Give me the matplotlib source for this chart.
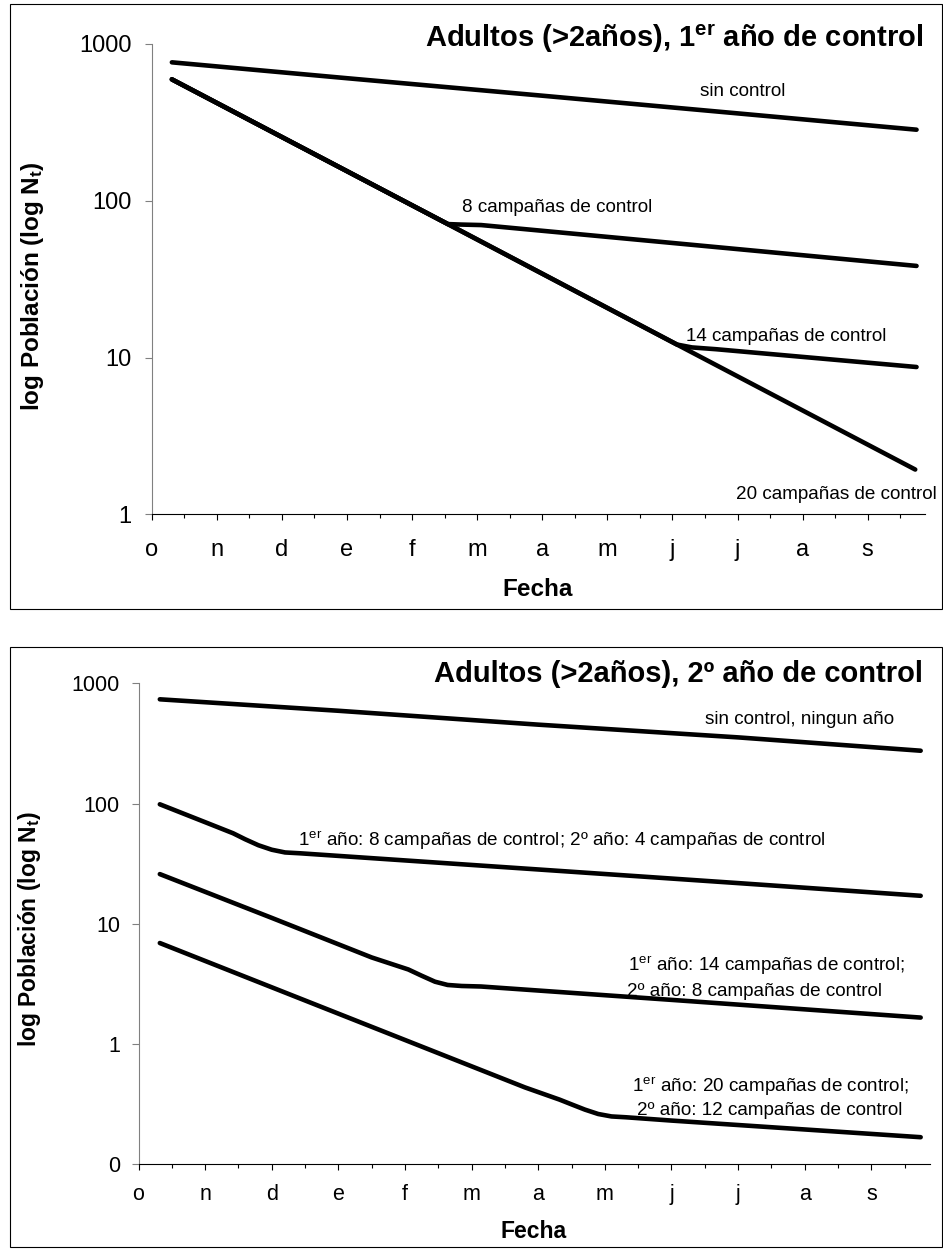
import matplotlib.pyplot as plt
from matplotlib.ticker import FixedLocator, NullLocator
from matplotlib.patches import Rectangle

plt.rcParams['font.family'] = ['Liberation Sans', 'DejaVu Sans']
plt.rcParams['mathtext.fontset'] = 'custom'
plt.rcParams['mathtext.rm'] = 'Liberation Sans'
plt.rcParams['mathtext.it'] = 'Liberation Sans:italic'
plt.rcParams['mathtext.bf'] = 'Liberation Sans:bold'

# x in months counted from 1 October (o n d e f m a m j j a s)
meses = ['o', 'n', 'd', 'e', 'f', 'm', 'a', 'm', 'j', 'j', 'a', 's']

# --- 1er año de control (top chart) ---
sin_control_x = [0.31, 3.0, 6.0, 9.0, 11.75]
sin_control_y = [764, 605, 468, 361, 284]

c8_x = [0.31, 4.55, 4.75, 5.06, 8.0, 11.75]
c8_y = [595, 71, 70.5, 70, 53.8, 38.4]

c14_x = [0.31, 4.55, 8.07, 8.3, 8.67, 11.75]
c14_y = [595, 71, 12.1, 11.6, 11.3, 8.7]

c20_x = [0.31, 4.55, 8.07, 11.73]
c20_y = [595, 71, 12.1, 1.93]

# --- 2º año de control (bottom chart) ---
ninguno_x = [0.32, 3.0, 6.0, 9.0, 11.74]
ninguno_y = [736, 591, 453, 355, 275]

c8_4_x = [0.32, 1.0, 1.42, 1.6, 1.8, 2.0, 2.2, 2.42, 6.0, 9.0, 11.74]
c8_4_y = [98.6, 70, 56.6, 50.5, 45, 41.3, 39.2, 38.6, 28.3, 21.8, 17.1]

c14_8_x = [0.32, 2.0, 3.5, 4.05, 4.25, 4.45, 4.64, 4.85, 5.14, 8.0, 11.74]
c14_8_y = [25.9, 11.2, 5.25, 4.17, 3.7, 3.3, 3.1, 3.04, 3.01, 2.33, 1.66]

c20_12_x = [0.32, 3.0, 5.8, 6.32, 6.5, 6.7, 6.9, 7.1, 7.32, 8.0, 11.74]
c20_12_y = [6.92, 1.79, 0.436, 0.345, 0.315, 0.285, 0.262, 0.25, 0.246, 0.231, 0.168]

W, H = 943, 1249


def fx(px):
    return px / W


def fy(py):
    return 1 - py / H


def style_axes(ax, ylim, yticks, ylabels, tick_fs, xpad, ypad):
    ax.set_yscale('log')
    ax.set_ylim(ylim)
    ax.set_xlim(0, 11.88)
    ax.set_yticks(yticks, labels=ylabels)
    ax.yaxis.set_minor_locator(NullLocator())
    ax.set_xticks(range(12), labels=meses)
    ax.xaxis.set_minor_locator(FixedLocator([i + 0.5 for i in range(12)]))

    for s in ['top', 'right']:
        ax.spines[s].set_visible(False)
    ax.spines['left'].set_color('#808080')
    ax.spines['left'].set_linewidth(0.8)
    ax.spines['bottom'].set_color('black')
    ax.spines['bottom'].set_linewidth(0.8)

    ax.tick_params(axis='y', which='major', direction='out', length=4.7, width=0.8,
                   color='#808080', labelsize=tick_fs, pad=ypad)
    ax.tick_params(axis='x', which='major', direction='out', length=4.5, width=0.8,
                   color='black', labelsize=tick_fs, pad=xpad)
    ax.tick_params(axis='x', which='minor', direction='out', length=3, width=0.8, color='black')


def draw_line(ax, x, y):
    ax.plot(x, y, color='black', lw=3.3, solid_capstyle='round',
            solid_joinstyle='round', clip_on=False)


fig = plt.figure(figsize=(W / 100, H / 100), dpi=100)

# outer frames around each chart
for top, bottom in [(4, 609), (646.7, 1247)]:
    fig.patches.append(Rectangle((fx(10), fy(bottom)), (942 - 10) / W, (bottom - top) / H,
                                 transform=fig.transFigure, fill=False, lw=0.8, ec='black'))

# ---------------- top chart ----------------
ax1 = fig.add_axes([fx(151.7), fy(514.3), (925 - 151.7) / W, (514.3 - 44) / H])
style_axes(ax1, (1, 1000), [1, 10, 100, 1000], ['1', '10', '100', '1000'],
           tick_fs=17, xpad=13, ypad=9.7)
for x, y in [(sin_control_x, sin_control_y), (c20_x, c20_y), (c14_x, c14_y), (c8_x, c8_y)]:
    draw_line(ax1, x, y)

fig.text(fx(923), fy(47), r'Adultos (>2años), 1$^{\mathbf{er}}$ año de control',
         ha='right', va='baseline', fontsize=21, fontweight='bold')
fig.text(fx(538), fy(596), 'Fecha', ha='center', va='baseline', fontsize=17.5, fontweight='bold')
fig.text(fx(33), fy(286), r'log Población (log N$_{\mathbf{t}}$)', rotation=90,
         ha='center', va='center', fontsize=17.5, fontweight='bold')

ann_fs = 13.6
fig.text(fx(700), fy(96), 'sin control', fontsize=ann_fs, va='baseline')
fig.text(fx(462), fy(212), '8 campañas de control', fontsize=ann_fs, va='baseline')
fig.text(fx(685.5), fy(341), '14 campañas de control', fontsize=ann_fs, va='baseline')
fig.text(fx(736), fy(499), '20 campañas de control', fontsize=ann_fs, va='baseline')

# ---------------- bottom chart ----------------
ax2 = fig.add_axes([fx(138.5), fy(1164.3), (930 - 138.5) / W, (1164.3 - 683.3) / H])
style_axes(ax2, (0.1, 1000), [0.1, 1, 10, 100, 1000], ['0', '1', '10', '100', '1000'],
           tick_fs=15.5, xpad=10, ypad=8.7)
for x, y in [(ninguno_x, ninguno_y), (c8_4_x, c8_4_y), (c14_8_x, c14_8_y), (c20_12_x, c20_12_y)]:
    draw_line(ax2, x, y)

fig.text(fx(923), fy(682), 'Adultos (>2años), 2º año de control',
         ha='right', va='baseline', fontsize=21, fontweight='bold')
fig.text(fx(533.5), fy(1238), 'Fecha', ha='center', va='baseline', fontsize=16.5, fontweight='bold')
fig.text(fx(30), fy(929), r'log Población (log N$_{\mathbf{t}}$)', rotation=90,
         ha='center', va='center', fontsize=16.5, fontweight='bold')

fig.text(fx(705), fy(724), 'sin control, ningun año', fontsize=ann_fs, va='baseline')
fig.text(fx(298), fy(846), r'1$^{\mathrm{er}}$ año: 8 campañas de control; 2º año: 4 campañas de control',
         fontsize=ann_fs, va='baseline')
fig.text(fx(628), fy(971), r'1$^{\mathrm{er}}$ año: 14 campañas de control;', fontsize=ann_fs, va='baseline')
fig.text(fx(627), fy(996), '2º año: 8 campañas de control', fontsize=ann_fs, va='baseline')
fig.text(fx(632), fy(1092), r'1$^{\mathrm{er}}$ año: 20 campañas de control;', fontsize=ann_fs, va='baseline')
fig.text(fx(637), fy(1115), '2º año: 12 campañas de control', fontsize=ann_fs, va='baseline')

fig.savefig('out.png', dpi=100)
